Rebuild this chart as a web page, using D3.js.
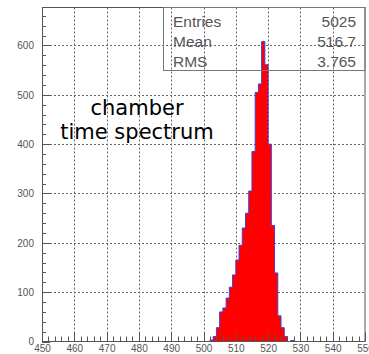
<!DOCTYPE html>
<html>
<head>
<meta charset="utf-8">
<script src="https://cdn.jsdelivr.net/npm/d3@7"></script>
<style>
  html, body { margin: 0; padding: 0; background: #fff; }
  svg { display: block; }
</style>
</head>
<body>
<svg id="chart" width="369" height="354"></svg>
<script>
// Histogram bins: lower edge of each 1-unit bin and its count
const binEdges = [502, 503, 504, 505, 506, 507, 508, 509, 510, 511, 512, 513, 514,
                  515, 516, 517, 518, 519, 520, 521, 522, 523, 524, 525, 526, 527];
const binCounts = [3, 10, 28, 60, 68, 88, 110, 135, 165, 195, 230, 260, 305,
                   385, 505, 522, 608, 561, 400, 235, 139, 52, 28, 10, 0, 2];

const xTicks = [450, 460, 470, 480, 490, 500, 510, 520, 530, 540, 550];
const yTicks = [0, 100, 200, 300, 400, 500, 600];

const statNames = ["Entries", "Mean", "RMS"];
const statValues = ["5025", "516.7", "3.765"];

const titleLines = ["chamber", "time spectrum"];

(function () {
  const svg = d3.select("#chart");
  const padL = 42, padR = 365, padT = 7.5, padB = 341.5;

  const x = d3.scaleLinear().domain([450, 550]).range([padL, padR]);
  const y = d3.scaleLinear().domain([0, 677]).range([padB, padT]);

  const gridColor = "#666";
  const axisColor = "#555";

  // dotted grid
  svg.append("g").selectAll("line").data(xTicks.slice(1, -1)).join("line")
    .attr("x1", d => Math.round(x(d)) + 0.5).attr("x2", d => Math.round(x(d)) + 0.5)
    .attr("y1", padT).attr("y2", padB)
    .attr("stroke", gridColor).attr("stroke-width", 1).attr("stroke-dasharray", "2,2");
  svg.append("g").selectAll("line").data(yTicks.slice(1)).join("line")
    .attr("x1", padL).attr("x2", padR)
    .attr("y1", d => Math.round(y(d)) + 0.5).attr("y2", d => Math.round(y(d)) + 0.5)
    .attr("stroke", gridColor).attr("stroke-width", 1).attr("stroke-dasharray", "2,2");

  // histogram as a stepped outline filled red
  const bins = binEdges.map((e, i) => ({ x0: e, x1: e + 1, n: binCounts[i] }));
  const pts = [[x(bins[0].x0), y(0)]];
  bins.forEach(b => { pts.push([x(b.x0), y(b.n)]); pts.push([x(b.x1), y(b.n)]); });
  pts.push([x(bins[bins.length - 1].x1), y(0)]);
  svg.append("path")
    .attr("d", d3.line()(pts))
    .attr("fill", "#ff0000")
    .attr("stroke", "#4b3cd6")
    .attr("stroke-width", 1);

  // frame
  svg.append("rect")
    .attr("x", padL + 0.5).attr("y", padT).attr("width", padR - padL - 0.5).attr("height", padB - padT)
    .attr("fill", "none").attr("stroke", axisColor).attr("stroke-width", 1);

  // x axis ticks (inside, pointing up)
  const xMinor = d3.range(450, 551, 2);
  svg.append("g").selectAll("line").data(xMinor).join("line")
    .attr("x1", d => Math.round(x(d)) + 0.5).attr("x2", d => Math.round(x(d)) + 0.5)
    .attr("y1", padB).attr("y2", d => padB - (d % 10 === 0 ? 9 : 5))
    .attr("stroke", axisColor).attr("stroke-width", 1);
  const xAxis = d3.axisBottom(x).tickValues(xTicks).tickSize(0).tickPadding(2);
  const gx = svg.append("g").attr("transform", `translate(0,${padB + 1})`).call(xAxis);
  gx.select(".domain").remove();
  gx.selectAll("text").attr("fill", axisColor).attr("font-family", "Liberation Sans, Arial, sans-serif").attr("font-size", 10);

  // y axis ticks (inside, pointing right)
  const yMinor = d3.range(0, 661, 20);
  svg.append("g").selectAll("line").data(yMinor).join("line")
    .attr("x1", padL).attr("x2", d => padL + (d % 100 === 0 ? 8 : 4))
    .attr("y1", d => Math.round(y(d)) + 0.5).attr("y2", d => Math.round(y(d)) + 0.5)
    .attr("stroke", axisColor).attr("stroke-width", 1);
  const yAxis = d3.axisLeft(y).tickValues(yTicks).tickSize(0).tickPadding(8);
  const gy = svg.append("g").attr("transform", `translate(${padL},0)`).call(yAxis);
  gy.select(".domain").remove();
  gy.selectAll("text").attr("fill", axisColor).attr("font-family", "Liberation Sans, Arial, sans-serif").attr("font-size", 10);

  // statistics box
  const boxX = 163, boxY = 7.5, boxW = padR - boxX, boxH = 63;
  svg.append("rect")
    .attr("x", boxX + 0.5).attr("y", boxY).attr("width", boxW - 0.5).attr("height", boxH)
    .attr("fill", "none").attr("stroke", "#777").attr("stroke-width", 1);
  const statG = svg.append("g").attr("font-family", "Liberation Sans, Arial, sans-serif")
    .attr("font-size", 15.5).attr("fill", "#555");
  statG.selectAll("text.name").data(statNames).join("text").attr("class", "name")
    .attr("x", 173).attr("y", (d, i) => 26.5 + i * 20).text(d => d);
  statG.selectAll("text.val").data(statValues).join("text").attr("class", "val")
    .attr("x", 356).attr("y", (d, i) => 26.5 + i * 20).attr("text-anchor", "end").text(d => d);

  // caption inside the plot
  svg.append("g").attr("font-family", "DejaVu Sans, Verdana, sans-serif").attr("font-size", 21).attr("fill", "#000")
    .selectAll("text").data(titleLines).join("text")
    .attr("x", 137).attr("y", (d, i) => 115 + i * 24).attr("text-anchor", "middle").text(d => d);
})();
</script>
</body>
</html>
